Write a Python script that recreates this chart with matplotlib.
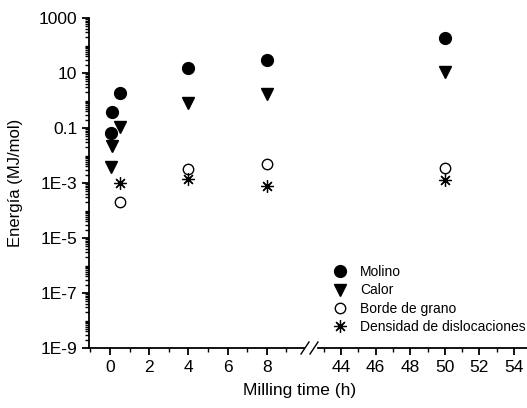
import matplotlib
matplotlib.use('Agg')
import matplotlib.pyplot as plt
from matplotlib.ticker import LogLocator, FixedLocator, NullFormatter, FixedFormatter

plt.rcParams['font.family'] = ['Liberation Sans', 'DejaVu Sans']

# Milling times (h) and energies (MJ/mol)
t_molino = [0.05, 0.12, 0.5, 4, 8, 50]
e_molino = [0.066, 0.38, 1.9, 15.6, 30, 190]
t_calor = [0.05, 0.12, 0.5, 4, 8, 50]
e_calor = [0.0039, 0.023, 0.11, 0.83, 1.7, 10.5]
t_borde = [0.5, 4, 8, 50]
e_borde = [2.1e-4, 3.2e-3, 4.8e-3, 3.6e-3]
t_disloc = [0.5, 4, 8, 50]
e_disloc = [1.0e-3, 1.35e-3, 7.9e-4, 1.3e-3]

ytick_vals = [1e-9, 1e-7, 1e-5, 1e-3, 0.1, 10, 1000]
ytick_labels = ['1E-9', '1E-7', '1E-5', '1E-3', '0.1', '10', '1000']
left_ticks = [0, 2, 4, 6, 8]
right_ticks = [44, 46, 48, 50, 52, 54]

W, H = 527, 408
fig = plt.figure(figsize=(W / 100, H / 100), dpi=100)
ax1 = fig.add_axes([89 / W, 60 / H, (304 - 89) / W, 330 / H])
ax2 = fig.add_axes([318 / W, 60 / H, (527 - 318) / W, 330 / H])

series = [
    (t_molino, e_molino, dict(marker='o', color='black', markersize=8.5, linestyle='none'), 'Molino'),
    (t_calor, e_calor, dict(marker='v', color='black', markersize=8.5, linestyle='none'), 'Calor'),
    (t_borde, e_borde, dict(marker='o', markerfacecolor='white', markeredgecolor='black',
                            markeredgewidth=1.0, markersize=7.5, linestyle='none'), 'Borde de grano'),
    (t_disloc, e_disloc, dict(marker=(8, 2, 0), color='black', markeredgewidth=0.9,
                              markersize=9, linestyle='none'), 'Densidad de dislocaciones'),
]

handles = []
for ax in (ax1, ax2):
    for t, e, style, name in series:
        h, = ax.plot(t, e, label=name, clip_on=False, **style)
        if ax is ax1:
            handles.append(h)

for ax in (ax1, ax2):
    ax.set_yscale('log')
    ax.set_ylim(1e-9, 1000)
    for s in ('top', 'right'):
        ax.spines[s].set_visible(False)
    ax.spines['bottom'].set_linewidth(1.3)
    ax.spines['left'].set_linewidth(1.3)
    ax.patch.set_alpha(0)
    ax.tick_params(axis='both', which='major', direction='out', length=5, width=1.3, labelsize=12.5)
    ax.tick_params(axis='both', which='minor', direction='out', length=3, width=1.0)

ax1.set_xlim(-1.07, 9.9)
ax2.set_xlim(42.67, 54.75)
ax1.xaxis.set_major_locator(FixedLocator(left_ticks))
ax1.xaxis.set_minor_locator(FixedLocator([-1, 1, 3, 5, 7, 9]))
ax2.xaxis.set_major_locator(FixedLocator(right_ticks))
ax2.xaxis.set_minor_locator(FixedLocator([43, 45, 47, 49, 51, 53]))

ax1.yaxis.set_major_locator(FixedLocator(ytick_vals))
ax1.yaxis.set_major_formatter(FixedFormatter(ytick_labels))
ax1.yaxis.set_minor_locator(LogLocator(base=10, subs=range(1, 10), numticks=50))
ax1.yaxis.set_minor_formatter(NullFormatter())

ax2.spines['left'].set_visible(False)
ax2.tick_params(axis='y', which='both', left=False, labelleft=False)

ax1.set_ylabel('Energía (MJ/mol)', fontsize=12)
ax1.yaxis.set_label_coords(-(89 - 23) / (304 - 89), 0.5)
fig.text(300 / W, 1 - 390 / H, 'Milling time (h)', fontsize=12.5, ha='center', va='center')

# axis break marks
for x0 in (301, 310):
    fig.add_artist(plt.Line2D([x0 / W, (x0 + 8) / W], [1 - 354 / H, 1 - 342 / H],
                              color='black', linewidth=1.0))

fig.legend(handles=handles, loc='upper left', bbox_to_anchor=(332 / W, 1 - 265 / H),
           frameon=False, fontsize=10, handletextpad=0.8, labelspacing=0.32,
           handlelength=1.2, borderaxespad=0, borderpad=0)

fig.savefig('out.png', dpi=100)
